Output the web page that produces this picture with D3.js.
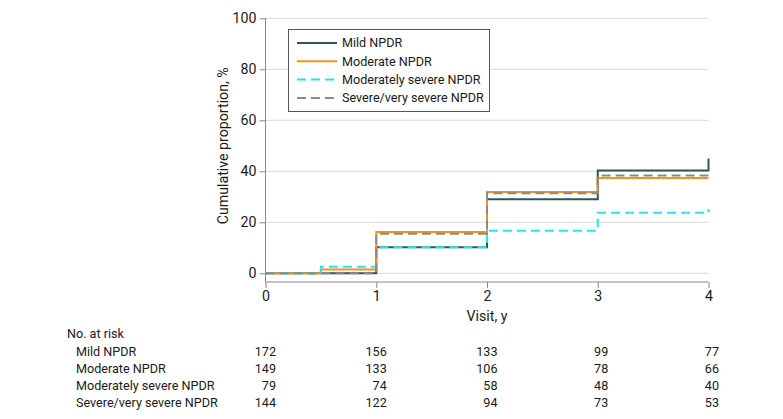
<!DOCTYPE html>
<html><head><meta charset="utf-8">
<script src="https://cdn.jsdelivr.net/npm/d3@7"></script>
<style>
body{margin:0;background:#fff;}
text{font-family:Roboto,"Open Sans",sans-serif;fill:#1a1a1a;}
</style></head>
<body><svg id="c" width="783" height="419"></svg>
<script>
const seriesNames = ["Mild NPDR","Moderate NPDR","Moderately severe NPDR","Severe/very severe NPDR"];
const stepTimes = [0, 0.5, 1, 2, 3, 4, 4];
const mild      = [0, 0,   10.2, 29.0, 40.3, 40.3, 45.0];
const moderate  = [0, 1.5, 16.2, 31.9, 37.4, 37.4, 37.4];
const modSevere = [0, 2.6, 10.2, 16.7, 23.7, 23.7, 25.2];
const severe    = [0, 0,   15.5, 31.4, 38.4, 38.4, 38.4];
const xTicks = [0,1,2,3,4];
const yTicks = [0,20,40,60,80,100];
const riskMild      = [172,156,133,99,77];
const riskModerate  = [149,133,106,78,66];
const riskModSevere = [79,74,58,48,40];
const riskSevere    = [144,122,94,73,53];

const colors = ["#2e5656","#f7901e","#22e6f0","#8c8c7c"];
const dashes = [null,null,"9,5","9,5"];
const values = [mild, moderate, modSevere, severe];
const risks = [riskMild, riskModerate, riskModSevere, riskSevere];
const FS = 12.6;
const AFS = 14.2;

const svg = d3.select("#c");
const x = d3.scaleLinear().domain([0,4]).range([265.5,708.5]);
const y = d3.scaleLinear().domain([0,100]).range([273.3,18.3]);

svg.append("g").selectAll("line").data(yTicks).join("line")
  .attr("x1",x(0)).attr("x2",x(4)).attr("y1",d=>y(d)).attr("y2",d=>y(d))
  .attr("stroke","#d9d9d9").attr("stroke-width",1);

const ya = svg.append("g").attr("transform",`translate(${x(0)},0)`)
  .call(d3.axisLeft(y).tickValues(yTicks).tickSize(6).tickPadding(3));
ya.select(".domain").attr("stroke","#888").attr("d",`M0,${y(100)}V${282}`);
ya.selectAll(".tick line").attr("stroke","#888");
ya.selectAll("text").attr("font-size",AFS).style("fill","#1a1a1a");

const xa = svg.append("g").attr("transform",`translate(0,282)`)
  .call(d3.axisBottom(x).tickValues(xTicks).tickSize(6).tickPadding(3).tickFormat(d3.format("d")));
xa.select(".domain").attr("stroke","#888").attr("d",`M${x(0)},0H${x(4)}`);
xa.selectAll(".tick line").attr("stroke","#888");
xa.selectAll("text").attr("font-size",AFS).style("fill","#1a1a1a");

svg.append("text").attr("x",x(2)).attr("y",321).attr("text-anchor","middle")
  .attr("font-size",AFS).text("Visit, y");
svg.append("text").attr("transform",`translate(228,${(y(0)+y(100))/2}) rotate(-90)`)
  .attr("text-anchor","middle").attr("font-size",AFS).text("Cumulative proportion, %");

const line = d3.line().x(d=>x(d[0])).y(d=>y(d[1])).curve(d3.curveStepAfter);
values.forEach((v,i)=>{
  const pts = stepTimes.map((t,j)=>[t,v[j]]);
  svg.append("path").attr("d",line(pts)).attr("fill","none")
    .attr("stroke",colors[i]).attr("stroke-width",2)
    .attr("stroke-dasharray",dashes[i]);
});

const lg = svg.append("g");
lg.append("rect").attr("x",288.5).attr("y",29.5).attr("width",201).attr("height",82)
  .attr("fill","#fff").attr("stroke","#555").attr("stroke-width",1);
seriesNames.forEach((n,i)=>{
  const yy = 43 + i*18.3;
  lg.append("line").attr("x1",297).attr("x2",337).attr("y1",yy).attr("y2",yy)
    .attr("stroke",colors[i]).attr("stroke-width",2).attr("stroke-dasharray",dashes[i]);
  lg.append("text").attr("x",342).attr("y",yy).attr("dy","0.35em").attr("font-size",FS).text(n);
});

svg.append("text").attr("x",67).attr("y",334).attr("dy","0.35em").attr("font-size",FS).text("No. at risk");
risks.forEach((r,i)=>{
  const yy = 352 + i*16.7;
  svg.append("text").attr("x",76).attr("y",yy).attr("dy","0.35em").attr("font-size",FS).text(seriesNames[i]);
  svg.append("g").selectAll("text").data(r).join("text")
    .attr("x",(d,j)=>x(xTicks[j])+10.5).attr("y",yy).attr("dy","0.35em")
    .attr("text-anchor","end").attr("font-size",FS).text(d=>d);
});
</script></body></html>
